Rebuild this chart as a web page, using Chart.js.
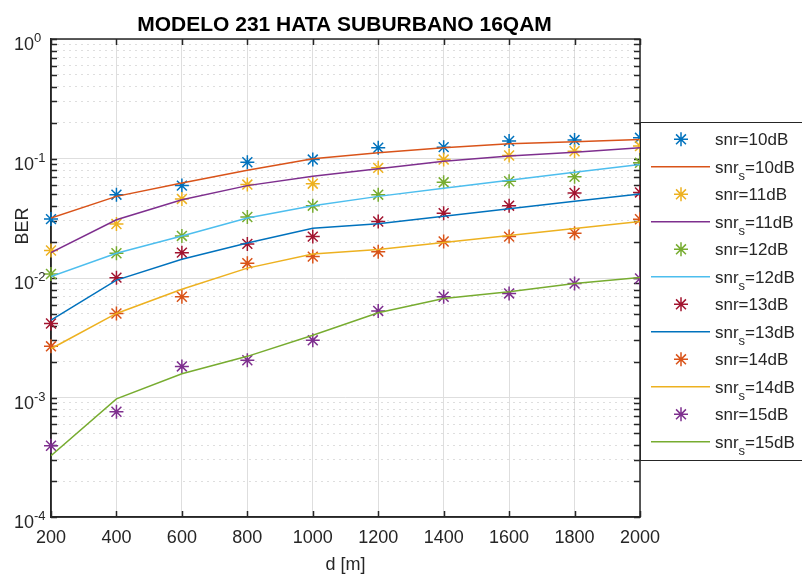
<!DOCTYPE html>
<html>
<head>
<meta charset="utf-8">
<script src="https://cdn.jsdelivr.net/npm/chart.js@4.4.1/dist/chart.umd.min.js"></script>
<style>
html, body { margin: 0; padding: 0; background: #fff; }
#wrap { width: 802px; height: 580px; position: relative; }
</style>
</head>
<body>
<div id="wrap"><canvas id="chart"></canvas></div>
<script>
const distances = [200, 400, 600, 800, 1000, 1200, 1400, 1600, 1800, 2000]
const decades = [-4, -3, -2, -1, 0]

// simulated points (markers)
const snr10 = [0.0311, 0.0498, 0.0593, 0.093, 0.098, 0.123, 0.1245, 0.140, 0.1426, 0.149]
const snr11 = [0.0170, 0.0283, 0.0459, 0.0605, 0.0616, 0.0835, 0.098, 0.106, 0.115, 0.127]
const snr12 = [0.0108, 0.0161, 0.0225, 0.0324, 0.0403, 0.0498, 0.0632, 0.0645, 0.0702, 0.092]
const snr13 = [0.00416, 0.01007, 0.0163, 0.0193, 0.0222, 0.0297, 0.0349, 0.0403, 0.0514, 0.052]
const snr14 = [0.00268, 0.00505, 0.00697, 0.0133, 0.0151, 0.0166, 0.0202, 0.0222, 0.0237, 0.031]
const snr15 = [0.000395, 0.00076, 0.00182, 0.00205, 0.00301, 0.0053, 0.00697, 0.00743, 0.0090, 0.0099]

// theoretical curves (lines)
const snrS10 = [0.0318, 0.0482, 0.0625, 0.0798, 0.0994, 0.1116, 0.123, 0.133, 0.138, 0.144]
const snrS11 = [0.0163, 0.0307, 0.0452, 0.0593, 0.0711, 0.0819, 0.095, 0.1047, 0.113, 0.123]
const snrS12 = [0.0103, 0.0161, 0.0225, 0.0318, 0.0403, 0.0482, 0.0563, 0.0657, 0.0767, 0.089]
const snrS13 = [0.00444, 0.0096, 0.01435, 0.0196, 0.0261, 0.0285, 0.0329, 0.038, 0.0438, 0.0505]
const snrS14 = [0.00256, 0.00505, 0.00804, 0.0121, 0.0159, 0.0173, 0.0198, 0.0227, 0.026, 0.0297]
const snrS15 = [0.000326, 0.000975, 0.00158, 0.00221, 0.00332, 0.00511, 0.00675, 0.00767, 0.0090, 0.0101]

const blue = "#0072BD"
const orange = "#D95319"
const yellow = "#EDB120"
const purple = "#7E2F8E"
const green = "#77AC30"
const cyan = "#4DBEEE"
const wine = "#A2142F"
const axisColor = "#262626"
const font = "'Liberation Sans', Arial, Helvetica, sans-serif"

const toPoints = (vals) => vals.map((v, i) => ({ x: distances[i], y: v }))

const markerSet = (label, vals, color, i) => ({
    label: label,
    data: toPoints(vals),
    showLine: false,
    borderColor: color,
    backgroundColor: color,
    pointStyle: "star",
    pointRadius: 7,
    pointBorderWidth: 1.5,
    pointHoverRadius: 7,
    clip: false,
    order: -i
})

const lineSet = (label, vals, color, i) => ({
    label: label,
    data: toPoints(vals),
    borderColor: color,
    backgroundColor: color,
    borderWidth: 1.5,
    pointRadius: 0,
    tension: 0,
    order: -i
})

const datasets = [
    markerSet("snr=10dB", snr10, blue, 0),
    lineSet("snr_s=10dB", snrS10, orange, 1),
    markerSet("snr=11dB", snr11, yellow, 2),
    lineSet("snr_s=11dB", snrS11, purple, 3),
    markerSet("snr=12dB", snr12, green, 4),
    lineSet("snr_s=12dB", snrS12, cyan, 5),
    markerSet("snr=13dB", snr13, wine, 6),
    lineSet("snr_s=13dB", snrS13, blue, 7),
    markerSet("snr=14dB", snr14, orange, 8),
    lineSet("snr_s=14dB", snrS14, yellow, 9),
    markerSet("snr=15dB", snr15, purple, 10),
    lineSet("snr_s=15dB", snrS15, green, 11)
]

const isMajor = (v) => Math.abs(Math.log10(v) - Math.round(Math.log10(v))) < 1e-9

// title, y tick labels, y title, box with inward ticks, legend
const matlabLook = {
    id: "matlabLook",
    beforeDatasetsDraw(chart) {
        const { ctx, chartArea: a, scales: { x, y } } = chart
        ctx.save()
        ctx.strokeStyle = axisColor
        ctx.lineWidth = 1.5
        ctx.strokeRect(a.left, a.top, a.right - a.left, a.bottom - a.top)
        ctx.beginPath()
        y.ticks.forEach(t => {
            const py = Math.round(y.getPixelForValue(t.value)) + 0.5
            ctx.moveTo(a.left, py); ctx.lineTo(a.left + 6, py)
            ctx.moveTo(a.right, py); ctx.lineTo(a.right - 6, py)
        })
        x.ticks.forEach(t => {
            const px = Math.round(x.getPixelForValue(t.value)) + 0.5
            ctx.moveTo(px, a.bottom); ctx.lineTo(px, a.bottom - 6)
            ctx.moveTo(px, a.top); ctx.lineTo(px, a.top + 6)
        })
        ctx.stroke()
        ctx.restore()
    },
    afterDraw(chart) {
        const { ctx, chartArea: a, scales: { y } } = chart
        ctx.save()
        // title
        ctx.fillStyle = "#000"
        ctx.font = "bold 21px " + font
        ctx.textAlign = "center"
        ctx.textBaseline = "alphabetic"
        ctx.fillText("MODELO 231 HATA SUBURBANO 16QAM", (a.left + a.right) / 2 - 1, 31)

        // y tick labels 10^n
        ctx.fillStyle = axisColor
        decades.forEach(d => {
            const py = y.getPixelForValue(Math.pow(10, d))
            ctx.font = "18px " + font
            ctx.textAlign = "right"
            ctx.fillText("10", a.left - 17, py + 11)
            ctx.font = "13px " + font
            ctx.textAlign = "left"
            ctx.fillText(String(d), a.left - 17, py + 3)
        })

        // y title
        ctx.save()
        ctx.translate(28, 226)
        ctx.rotate(-Math.PI / 2)
        ctx.font = "18px " + font
        ctx.textAlign = "center"
        ctx.fillText("BER", 0, 0)
        ctx.restore()

        // legend box overlapping the axes
        const top = 122, bottom = 460, left = a.right
        ctx.fillStyle = "#fff"
        ctx.fillRect(left, top, chart.width - left + 5, bottom - top)
        ctx.strokeStyle = axisColor
        ctx.lineWidth = 1
        ctx.strokeRect(left + 0.5, top + 0.5, chart.width - left + 5, bottom - top)
        chart.data.datasets.forEach((ds, i) => {
            const ry = top + 17.3 + i * 27.5
            if (ds.showLine === false) {
                ctx.strokeStyle = ds.borderColor
                ctx.lineWidth = ds.pointBorderWidth
                Chart.helpers.drawPoint(ctx, { pointStyle: "star", radius: ds.pointRadius, rotation: 0, borderWidth: ds.pointBorderWidth }, left + 41, ry)
            } else {
                ctx.strokeStyle = ds.borderColor
                ctx.lineWidth = ds.borderWidth
                ctx.beginPath()
                ctx.moveTo(left + 11, ry)
                ctx.lineTo(left + 70, ry)
                ctx.stroke()
            }
            ctx.fillStyle = axisColor
            ctx.textAlign = "left"
            ctx.font = "17px " + font
            const parts = ds.label.split("_s")
            let tx = left + 75
            const base = ry + 5.7
            ctx.fillText(parts[0], tx, base)
            tx += ctx.measureText(parts[0]).width
            if (parts.length > 1) {
                ctx.font = "13px " + font
                ctx.fillText("s", tx, base + 7)
                tx += ctx.measureText("s").width
                ctx.font = "17px " + font
                ctx.fillText(parts[1], tx, base)
            }
        })
        ctx.restore()
    }
}

const ctx = document.querySelector("#chart")
const chart = new Chart(ctx, {
    type: "line",
    data: { datasets: datasets },
    options: {
        responsive: true,
        maintainAspectRatio: false,
        animation: false,
        devicePixelRatio: 1,
        layout: { padding: { top: 39, right: 162, left: 0, bottom: 0 } },
        plugins: {
            legend: { display: false },
            title: { display: false },
            tooltip: { enabled: false }
        },
        scales: {
            x: {
                type: "linear",
                min: 200,
                max: 2000,
                afterFit: (scale) => { scale.height = 63 },
                ticks: {
                    stepSize: 200,
                    color: axisColor,
                    padding: 10,
                    font: { size: 18, family: font },
                    maxRotation: 0,
                    callback: (v) => String(v)
                },
                grid: { color: "#dedede", lineWidth: 1, drawTicks: false },
                border: { color: axisColor, width: 1.5 },
                title: {
                    display: true,
                    text: "d [m]",
                    color: axisColor,
                    font: { size: 18, family: font },
                    padding: { top: 0, bottom: 4 }
                }
            },
            y: {
                type: "logarithmic",
                min: 1e-4,
                max: 1,
                afterFit: (scale) => { scale.width = 51 },
                afterBuildTicks: (scale) => {
                    const ticks = []
                    decades.forEach(d => {
                        const n = d === 0 ? 1 : 9
                        for (let k = 1; k <= n; k++) {
                            ticks.push({ value: k * Math.pow(10, d), major: k === 1 })
                        }
                    })
                    scale.ticks = ticks
                },
                ticks: { display: false },
                grid: {
                    color: (c) => c.tick && isMajor(c.tick.value) ? "#dedede" : "#bcbcbc",
                    lineWidth: 1,
                    drawTicks: false
                },
                border: {
                    color: axisColor,
                    width: 1.5,
                    dash: (c) => c.tick && !isMajor(c.tick.value) ? [1, 5] : []
                }
            }
        }
    },
    plugins: [matlabLook]
})
</script>
</body>
</html>
